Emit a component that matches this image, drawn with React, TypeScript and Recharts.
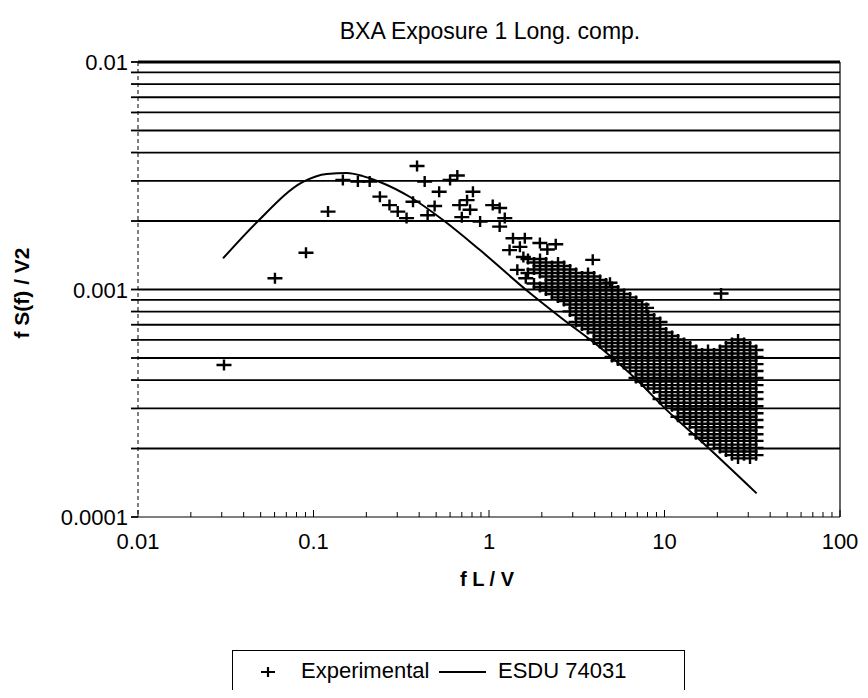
import { ComposedChart, Scatter, Line, XAxis, YAxis, ReferenceLine } from "recharts";

const FONT = '"Liberation Sans", Arial, Helvetica, sans-serif';

// log axis ticks (decades get a label)
const xTicks = [
  0.01, 0.02, 0.03, 0.04, 0.05, 0.06, 0.07, 0.08, 0.09,
  0.1, 0.2, 0.3, 0.4, 0.5, 0.6, 0.7, 0.8, 0.9,
  1, 2, 3, 4, 5, 6, 7, 8, 9,
  10, 20, 30, 40, 50, 60, 70, 80, 90, 100,
];
const xDecades = [0.01, 0.1, 1, 10, 100];

const yGrid = [
  0.0002, 0.0003, 0.0004, 0.0005, 0.0006, 0.0007, 0.0008, 0.0009,
  0.001, 0.002, 0.003, 0.004, 0.005, 0.006, 0.007, 0.008, 0.009, 0.01,
];
const yTicks = [0.0001, ...yGrid];
const yDecades = [0.0001, 0.001, 0.01];

// ESDU 74031 spectrum
const esduCurve: [number, number][] = [
  [0.0305, 0.00137], [0.0477, 0.00198], [0.0871, 0.00297], [0.119, 0.00322],
  [0.155, 0.00325], [0.191, 0.00315], [0.239, 0.00297], [0.355, 0.00255],
  [0.547, 0.00202], [0.889, 0.00149], [1.71, 0.000965], [2.54, 0.000757],
  [4.47, 0.000542], [6.97, 0.0004], [10.3, 0.000295], [15.9, 0.000218],
  [33.5, 0.000127],
];

// measured points, low frequency end (scattered)
const expLow: [number, number][] = [
  [0.0309, 0.000466], [0.0603, 0.00112], [0.0906, 0.00145], [0.121, 0.0022],
  [0.147, 0.00303], [0.179, 0.00298], [0.209, 0.00298], [0.239, 0.00256],
  [0.271, 0.00235], [0.302, 0.0022], [0.339, 0.00206], [0.389, 0.00349],
  [0.43, 0.00298], [0.369, 0.00243], [0.447, 0.00212], [0.49, 0.00233],
  [0.52, 0.00269], [0.6, 0.00303], [0.66, 0.00317], [0.68, 0.00235],
  [0.75, 0.00247], [0.81, 0.00269], [0.78, 0.00224], [0.7, 0.00208],
  [0.89, 0.00199], [1.05, 0.00235], [1.15, 0.00228], [1.23, 0.00206],
  [1.15, 0.00189], [1.37, 0.00168], [1.31, 0.00149], [1.5, 0.00154],
  [1.57, 0.00139], [1.6, 0.00168], [1.95, 0.0016], [2.15, 0.0015],
  [2.4, 0.00158], [1.45, 0.00122], [1.62, 0.00112], [3.9, 0.00135],
  [4.89, 0.00107], [7.9, 0.00083], [21, 0.00096],
];

// measured points, dense high frequency band: frequency and the values stacked there
const expBand: { x: number; ys: number[] }[] = [
  { x: 1.668, ys: [0.001362, 0.001182] },
  { x: 1.805, ys: [0.001315, 0.001225, 0.001063] },
  { x: 1.953, ys: [0.001362, 0.001269, 0.001182, 0.001026] },
  { x: 2.113, ys: [0.001315, 0.001225, 0.001141, 0.001063, 0.00099] },
  { x: 2.286, ys: [0.001269, 0.001182, 0.001101, 0.001026, 0.000956] },
  { x: 2.473, ys: [0.001315, 0.001225, 0.001141, 0.001063, 0.00099, 0.000923] },
  { x: 2.676, ys: [0.001269, 0.001182, 0.001101, 0.001026, 0.000956, 0.00089] },
  { x: 2.895, ys: [0.001225, 0.001141, 0.001063, 0.00099, 0.000923, 0.000859, 0.000801] },
  { x: 3.132, ys: [0.001182, 0.001101, 0.001026, 0.000956, 0.00089, 0.000829, 0.000773, 0.00072] },
  { x: 3.389, ys: [0.001141, 0.001063, 0.00099, 0.000923, 0.000859, 0.000801, 0.000746, 0.000695] },
  { x: 3.666, ys: [0.001182, 0.001101, 0.001026, 0.000956, 0.00089, 0.000829, 0.000773, 0.00072, 0.00067] },
  { x: 3.966, ys: [0.001141, 0.001063, 0.00099, 0.000923, 0.000859, 0.000801, 0.000746, 0.000695, 0.000647, 0.000603] },
  { x: 4.291, ys: [0.001101, 0.001026, 0.000956, 0.00089, 0.000829, 0.000773, 0.00072, 0.00067, 0.000625, 0.000582] },
  { x: 4.643, ys: [0.001063, 0.00099, 0.000923, 0.000859, 0.000801, 0.000746, 0.000695, 0.000647, 0.000603, 0.000562] },
  { x: 5.023, ys: [0.001026, 0.000956, 0.00089, 0.000829, 0.000773, 0.00072, 0.00067, 0.000625, 0.000582, 0.000542, 0.000505] },
  { x: 5.434, ys: [0.00099, 0.000923, 0.000859, 0.000801, 0.000746, 0.000695, 0.000647, 0.000603, 0.000562, 0.000523, 0.000487] },
  { x: 5.879, ys: [0.000956, 0.00089, 0.000829, 0.000773, 0.00072, 0.00067, 0.000625, 0.000582, 0.000542, 0.000505, 0.00047] },
  { x: 6.361, ys: [0.000923, 0.000859, 0.000801, 0.000746, 0.000695, 0.000647, 0.000603, 0.000562, 0.000523, 0.000487, 0.000454] },
  { x: 6.882, ys: [0.00089, 0.000829, 0.000773, 0.00072, 0.00067, 0.000625, 0.000582, 0.000542, 0.000505, 0.00047, 0.000438, 0.000408] },
  { x: 7.445, ys: [0.000859, 0.000801, 0.000746, 0.000695, 0.000647, 0.000603, 0.000562, 0.000523, 0.000487, 0.000454, 0.000423, 0.000394] },
  { x: 8.055, ys: [0.000773, 0.00072, 0.00067, 0.000625, 0.000582, 0.000542, 0.000505, 0.00047, 0.000438, 0.000408, 0.00038] },
  { x: 8.715, ys: [0.000746, 0.000695, 0.000647, 0.000603, 0.000562, 0.000523, 0.000487, 0.000454, 0.000423, 0.000394, 0.000367] },
  { x: 9.429, ys: [0.00072, 0.00067, 0.000625, 0.000582, 0.000542, 0.000505, 0.00047, 0.000438, 0.000408, 0.00038, 0.000354, 0.00033] },
  { x: 10.2, ys: [0.000647, 0.000603, 0.000562, 0.000523, 0.000487, 0.000454, 0.000423, 0.000394, 0.000367, 0.000342, 0.000318] },
  { x: 11.04, ys: [0.000625, 0.000582, 0.000542, 0.000505, 0.00047, 0.000438, 0.000408, 0.00038, 0.000354, 0.00033, 0.000307] },
  { x: 11.94, ys: [0.000603, 0.000562, 0.000523, 0.000487, 0.000454, 0.000423, 0.000394, 0.000367, 0.000342, 0.000318, 0.000297, 0.000276] },
  { x: 12.92, ys: [0.000582, 0.000542, 0.000505, 0.00047, 0.000438, 0.000408, 0.00038, 0.000354, 0.00033, 0.000307, 0.000286, 0.000267] },
  { x: 13.98, ys: [0.000562, 0.000523, 0.000487, 0.000454, 0.000423, 0.000394, 0.000367, 0.000342, 0.000318, 0.000297, 0.000276, 0.000257] },
  { x: 15.12, ys: [0.000542, 0.000505, 0.00047, 0.000438, 0.000408, 0.00038, 0.000354, 0.00033, 0.000307, 0.000286, 0.000267, 0.000248, 0.000231] },
  { x: 16.36, ys: [0.000523, 0.000487, 0.000454, 0.000423, 0.000394, 0.000367, 0.000342, 0.000318, 0.000297, 0.000276, 0.000257, 0.00024, 0.000223] },
  { x: 17.7, ys: [0.000542, 0.000505, 0.00047, 0.000438, 0.000408, 0.00038, 0.000354, 0.00033, 0.000307, 0.000286, 0.000267, 0.000248, 0.000231, 0.000216] },
  { x: 19.15, ys: [0.000523, 0.000487, 0.000454, 0.000423, 0.000394, 0.000367, 0.000342, 0.000318, 0.000297, 0.000276, 0.000257, 0.00024, 0.000223, 0.000208] },
  { x: 20.72, ys: [0.000542, 0.000505, 0.00047, 0.000438, 0.000408, 0.00038, 0.000354, 0.00033, 0.000307, 0.000286, 0.000267, 0.000248, 0.000231, 0.000216, 0.000201] },
  { x: 22.42, ys: [0.000562, 0.000523, 0.000487, 0.000454, 0.000423, 0.000394, 0.000367, 0.000342, 0.000318, 0.000297, 0.000276, 0.000257, 0.00024, 0.000223, 0.000208, 0.000194] },
  { x: 24.25, ys: [0.000582, 0.000542, 0.000505, 0.00047, 0.000438, 0.000408, 0.00038, 0.000354, 0.00033, 0.000307, 0.000286, 0.000267, 0.000248, 0.000231, 0.000216, 0.000201, 0.000187] },
  { x: 26.24, ys: [0.000603, 0.000562, 0.000523, 0.000487, 0.000454, 0.000423, 0.000394, 0.000367, 0.000342, 0.000318, 0.000297, 0.000276, 0.000257, 0.00024, 0.000223, 0.000208, 0.000194, 0.000181] },
  { x: 28.39, ys: [0.000582, 0.000542, 0.000505, 0.00047, 0.000438, 0.000408, 0.00038, 0.000354, 0.00033, 0.000307, 0.000286, 0.000267, 0.000248, 0.000231, 0.000216, 0.000201, 0.000187] },
  { x: 30.71, ys: [0.000562, 0.000523, 0.000487, 0.000454, 0.000423, 0.000394, 0.000367, 0.000342, 0.000318, 0.000297, 0.000276, 0.000257, 0.00024, 0.000223, 0.000208, 0.000194, 0.000181] },
  { x: 33.23, ys: [0.000542, 0.000505, 0.00047, 0.000438, 0.000408, 0.00038, 0.000354, 0.00033, 0.000307, 0.000286, 0.000267, 0.000248, 0.000231, 0.000216, 0.000201, 0.000187] },
];

const experimental = [
  ...expLow.map(([x, y]) => ({ x, y })),
  ...expBand.flatMap((c) => c.ys.map((y) => ({ x: c.x, y }))),
];
const esdu = esduCurve.map(([x, y]) => ({ x, y }));

const Plus = (props: any) => {
  const { cx, cy } = props;
  if (cx == null || cy == null) return null;
  return (
    <path
      d={`M${cx - 7.5},${cy}H${cx + 7.5}M${cx},${cy - 5.5}V${cy + 5.5}`}
      stroke="#000"
      strokeWidth={2.4}
      fill="none"
    />
  );
};

const XTick = (props: any) => {
  const { x, y, payload } = props;
  const major = xDecades.includes(payload.value);
  return (
    <g>
      <line x1={x} x2={x} y1={y} y2={y - (major ? 7 : 5)} stroke="#000" strokeWidth={1} />
      {major && (
        <text x={x} y={y + 32} textAnchor="middle" fontSize={22} fontFamily={FONT} fill="#000">
          {String(payload.value)}
        </text>
      )}
    </g>
  );
};

const YTick = (props: any) => {
  const { x, y, payload } = props;
  const major = yDecades.includes(payload.value);
  return (
    <g>
      <line x1={x - 7} x2={x} y1={y} y2={y} stroke="#000" strokeWidth={1.8} />
      {major && (
        <text x={x - 10} y={y + 8} textAnchor="end" fontSize={22} fontFamily={FONT} fill="#000">
          {String(payload.value)}
        </text>
      )}
    </g>
  );
};

export default function App() {
  return (
    <div
      style={{
        position: "relative",
        width: 860,
        height: 690,
        marginBottom: -8,
        overflow: "hidden",
        fontFamily: FONT,
        background: "#fff",
      }}
    >
      <div
        style={{
          position: "absolute",
          left: 182,
          top: 12,
          width: 600,
          textAlign: "center",
          fontSize: 23,
          lineHeight: "23px",
        }}
      >
        BXA Exposure 1 Long. comp.
      </div>

      <ComposedChart width={860} height={690} margin={{ top: 54, right: 28, bottom: 121, left: 0 }}>
        <XAxis
          dataKey="x"
          type="number"
          scale="log"
          domain={[0.01, 100]}
          allowDataOverflow
          ticks={xTicks}
          interval={0}
          tickSize={0}
          tickMargin={0}
          tick={<XTick />}
          height={60}
          axisLine={{ stroke: "#000", strokeWidth: 1 }}
        />
        <YAxis
          dataKey="y"
          type="number"
          scale="log"
          domain={[0.0001, 0.01]}
          allowDataOverflow
          ticks={yTicks}
          interval={0}
          tickSize={0}
          tickMargin={0}
          tick={<YTick />}
          width={130}
          axisLine={{ stroke: "#000", strokeWidth: 1, strokeDasharray: "4 3" }}
        />
        {yGrid.map((v) => (
          <ReferenceLine key={v} y={v} stroke="#000" strokeWidth={v === 0.01 ? 2.8 : 1.8} />
        ))}
        <ReferenceLine x={100} stroke="#000" strokeWidth={1.2} />
        <Line
          data={esdu}
          dataKey="y"
          type="monotone"
          stroke="#000"
          strokeWidth={2}
          dot={false}
          activeDot={false}
          isAnimationActive={false}
        />
        <Scatter data={experimental} dataKey="y" shape={<Plus />} isAnimationActive={false} />
      </ComposedChart>

      <div
        style={{
          position: "absolute",
          left: -86,
          top: 273,
          width: 200,
          height: 24,
          lineHeight: "24px",
          textAlign: "center",
          fontSize: 21,
          fontWeight: "bold",
          transform: "rotate(-90deg)",
        }}
      >
        f S(f) / V2
      </div>

      <div
        style={{
          position: "absolute",
          left: 379,
          top: 561,
          width: 200,
          textAlign: "center",
          fontSize: 20,
          lineHeight: "20px",
          fontWeight: "bold",
        }}
      >
        f L / V
      </div>

      <div
        style={{
          position: "absolute",
          left: 224,
          top: 642,
          width: 453,
          height: 80,
          border: "1.5px solid #000",
          boxSizing: "border-box",
          fontSize: 22,
        }}
      >
        <svg style={{ position: "absolute", left: 26, top: 12 }} width={18} height={18}>
          <path d="M2,9H16M9,4V14" stroke="#000" strokeWidth={2.2} />
        </svg>
        <span style={{ position: "absolute", left: 68, top: 8, lineHeight: "24px" }}>Experimental</span>
        <svg style={{ position: "absolute", left: 206, top: 12 }} width={50} height={18}>
          <line x1={0} x2={47} y1={9} y2={9} stroke="#000" strokeWidth={2} />
        </svg>
        <span style={{ position: "absolute", left: 265, top: 8, lineHeight: "24px" }}>ESDU 74031</span>
      </div>
    </div>
  );
}
